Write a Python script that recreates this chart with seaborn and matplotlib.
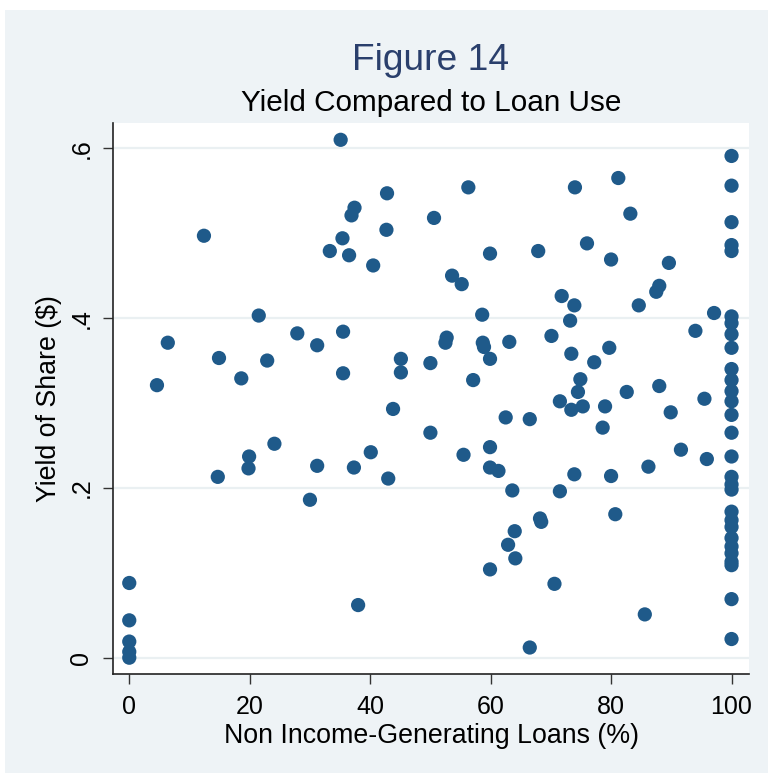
import matplotlib
matplotlib.use("Agg")
import matplotlib.pyplot as plt
from matplotlib.patches import Rectangle
import seaborn as sns
import pandas as pd

# Share of loans that do not generate income (%), per member
loan_pct = [
    0, 0, 0, 0, 0,
    4.6, 6.4, 12.4, 14.7, 14.9, 18.6, 19.8, 19.9, 21.5, 22.9, 24.1, 27.9, 30.0,
    31.2, 31.2, 33.3,
    35.1, 35.4, 35.5, 35.5, 36.5, 36.9, 37.4, 37.3, 38.0, 40.1, 40.5, 42.7, 42.8,
    43.0, 43.8, 45.1, 45.1, 50.0, 50.0, 50.6, 52.5, 52.7, 53.6, 55.2, 55.5, 56.3,
    57.1, 58.6, 58.7, 58.9, 59.9, 59.9, 59.9, 59.9, 59.9, 61.3, 62.5, 62.9, 63.1,
    63.6, 64.0, 64.1, 66.5, 66.5, 67.9, 68.2, 68.4,
    70.1, 70.6, 71.5, 71.5, 71.8, 73.2, 73.4, 73.4, 73.9, 73.9, 74.0, 74.5, 74.9,
    75.3, 76.0, 77.2, 78.6, 79.0, 79.7, 80.0, 80.0, 80.7, 81.2, 82.6, 83.2, 84.6,
    85.6, 86.2, 87.5, 88.0, 88.0, 89.6, 89.9, 91.6, 94.0, 95.5, 95.9, 97.1,
    100, 100, 100, 100, 100, 100, 100, 100, 100, 100, 100, 100, 100, 100, 100,
    100, 100, 100, 100, 100, 100, 100, 100, 100, 100, 100, 100, 100, 100,
]

# Yield of one share ($), same order as loan_pct
share_yield = [
    0.088, 0.044, 0.019, 0.007, 0.000,
    0.321, 0.371, 0.497, 0.213, 0.353, 0.329, 0.223, 0.237, 0.403, 0.350, 0.252,
    0.382, 0.186, 0.368, 0.226, 0.479,
    0.610, 0.494, 0.384, 0.335, 0.474, 0.521, 0.530, 0.224, 0.062, 0.242, 0.462,
    0.504, 0.547, 0.211, 0.293, 0.352, 0.336, 0.347, 0.265, 0.518, 0.371, 0.377,
    0.450, 0.440, 0.239, 0.554, 0.327, 0.404, 0.371, 0.366, 0.476, 0.352, 0.248,
    0.224, 0.104, 0.220, 0.283, 0.133, 0.372, 0.197, 0.149, 0.117, 0.281, 0.012,
    0.479, 0.164, 0.160,
    0.379, 0.087, 0.302, 0.196, 0.426, 0.397, 0.358, 0.292, 0.415, 0.216, 0.554,
    0.313, 0.328, 0.296, 0.488, 0.348, 0.271, 0.296, 0.365, 0.469, 0.214, 0.169,
    0.565, 0.313, 0.523, 0.415, 0.051, 0.225, 0.431, 0.438, 0.320, 0.465, 0.289,
    0.245, 0.385, 0.305, 0.234, 0.406,
    0.591, 0.556, 0.513, 0.486, 0.479, 0.402, 0.394, 0.381, 0.365, 0.340, 0.327,
    0.314, 0.302, 0.286, 0.265, 0.237, 0.213, 0.204, 0.198, 0.172, 0.162, 0.154,
    0.141, 0.131, 0.123, 0.113, 0.109, 0.069, 0.022,
]

x_ticks = [0, 20, 40, 60, 80, 100]
y_ticks = [0, 0.2, 0.4, 0.6]
y_tick_labels = ["0", ".2", ".4", ".6"]

title = "Figure 14"
subtitle = "Yield Compared to Loan Use"
x_label = "Non Income-Generating Loans (%)"
y_label = "Yield of Share ($)"

df = pd.DataFrame({"loan_pct": loan_pct, "share_yield": share_yield})

sns.set_theme(style="white")
plt.rcParams["font.family"] = ["Liberation Sans", "DejaVu Sans"]

W, H = 768, 773
fig = plt.figure(figsize=(W / 100, H / 100), dpi=100)
# light graph region, with a thin white margin on the top and left edges
fig.patch.set_facecolor("#eef3f6")
fig.patches.append(Rectangle((0, 1 - 10 / H), 1, 10 / H, transform=fig.transFigure,
                             facecolor="white", edgecolor="none", zorder=-1))
fig.patches.append(Rectangle((0, 0), 5 / W, 1, transform=fig.transFigure,
                             facecolor="white", edgecolor="none", zorder=-1))

ax = fig.add_axes([113 / W, 1 - 674 / H, (749 - 113) / W, (674 - 123) / H])
ax.set_facecolor("white")

for yv in y_ticks:
    ax.axhline(yv, color="#eaf0f2", lw=1.6, zorder=1)

sns.scatterplot(data=df, x="loan_pct", y="share_yield", ax=ax, s=105,
                color="#1f5a8a", edgecolor="none", linewidth=0, zorder=3)

ax.set_xlim(-2.7, 102.9)
ax.set_ylim(-0.0192, 0.6298)

ax.set_xticks(x_ticks)
ax.set_xticklabels([str(t) for t in x_ticks])
ax.set_yticks(y_ticks)
ax.set_yticklabels(y_tick_labels, rotation=90, va="center")

ax.tick_params(axis="both", direction="out", length=7.2, width=1, color="#333333",
               labelsize=18, labelcolor="black")
ax.tick_params(axis="x", bottom=True, pad=8)
ax.tick_params(axis="y", left=True, pad=7)

for side in ["top", "right"]:
    ax.spines[side].set_visible(False)
for side in ["left", "bottom"]:
    ax.spines[side].set_color("#222222")
    ax.spines[side].set_linewidth(1.2)

ax.set_xlabel(x_label, fontsize=19.3, color="black", labelpad=3)
ax.set_ylabel(y_label, fontsize=19.3, color="black", labelpad=5)

cx = (113 + 749) / 2 / W
fig.text(cx, 1 - 60 / H, title, ha="center", va="center", fontsize=26.7,
         color="#2a3f6c")
fig.text(cx, 1 - 103 / H, subtitle, ha="center", va="center", fontsize=21.4,
         color="black")

fig.savefig("out.png", dpi=100)
